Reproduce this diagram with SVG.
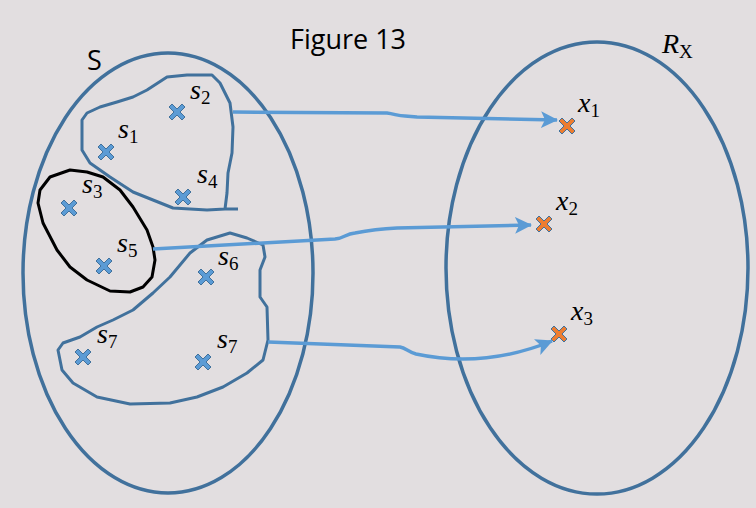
<svg xmlns="http://www.w3.org/2000/svg" xmlns:xlink="http://www.w3.org/1999/xlink" width="756" height="508" viewBox="0 0 756 508">
<style>
.ell{fill:none;stroke:#41719C;stroke-width:3.5}
.blob{fill:none;stroke:#41719C;stroke-width:3;stroke-linejoin:round}
.blk{fill:none;stroke:#000;stroke-width:3;stroke-linejoin:round}
.con{fill:none;stroke:#5B9BD5;stroke-width:3.5;marker-end:url(#ah)}
.m{font-family:"Liberation Serif",serif;font-style:italic;font-size:28px;fill:#000}
.sub{font-style:normal;font-size:19px}
.t{font-family:"Open Sans","Liberation Sans",sans-serif;font-size:27px;fill:#000}
.bx{fill:#5B9BD5;stroke:#41719C;stroke-width:1}
.ox{fill:#ED7D31;stroke:#41719C;stroke-width:1}
</style>
<defs>
<marker id="ah" markerUnits="userSpaceOnUse" markerWidth="18" markerHeight="18" refX="16" refY="8.5" orient="auto">
<path d="M0,0 L17,8.5 L0,17 L4,8.5 z" fill="#5B9BD5"/>
</marker>
<path id="cx" d="M-8,-5 L-5,-8 L0,-3 L5,-8 L8,-5 L3,0 L8,5 L5,8 L0,3 L-5,8 L-8,5 L-3,0 Z"/>
</defs>
<rect width="756" height="508" fill="#E2DEE0"/>
<text class="t" x="290" y="49">Figure 13</text>
<g id="S">
<ellipse class="ell" cx="168" cy="273" rx="145" ry="220"/>
<text class="t" x="87" y="70">S</text>
</g>
<g id="RX">
<ellipse class="ell" cx="597" cy="268" rx="151" ry="226"/>
<text class="m" x="662" y="53">R<tspan class="sub" dy="5">X</tspan></text>
</g>
<g id="set1">
<path class="blob" d="M238,209 L225,209 L207,210 L173,208 L153,200 L133,192 L110,177 L90,163 L82,150 L82,120 L87,113 L100,107 L117,102 L133,97 L147,90 L167,77 L187,75 L212,75 L220,83 L230,103 L233,127 L232,153 L228,173 L227,193 L225,209"/>
</g>
<g id="set2">
<path class="blk" d="M70,170 L87,172 L103,177 L120,190 L133,207 L147,230 L153,247 L155,260 L152,277 L143,287 L130,292 L110,291 L87,280 L70,267 L57,250 L43,223 L38,203 L40,190 L50,177 Z"/>
</g>
<g id="set3">
<path class="blob" d="M230,233 L247,238 L263,245 L265,257 L260,270 L260,297 L267,307 L268,340 L263,360 L247,373 L223,387 L197,397 L170,403 L130,404 L97,397 L73,383 L62,370 L58,350 L63,343 L80,337 L97,327 L113,320 L133,310 L153,293 L170,277 L190,253 L207,240 Z"/>
</g>
<g id="points">
<use href="#cx" class="bx" x="177" y="112"/>
<use href="#cx" class="bx" x="106" y="152"/>
<use href="#cx" class="bx" x="183" y="197"/>
<use href="#cx" class="bx" x="69" y="208"/>
<use href="#cx" class="bx" x="104" y="266"/>
<use href="#cx" class="bx" x="206" y="277"/>
<use href="#cx" class="bx" x="83" y="357"/>
<use href="#cx" class="bx" x="203" y="362"/>
<use href="#cx" class="ox" x="567" y="126"/>
<use href="#cx" class="ox" x="544" y="224"/>
<use href="#cx" class="ox" x="559" y="334"/>
</g>
<g id="labels">
<text class="m" x="190" y="99">s<tspan class="sub" dy="5">2</tspan></text>
<text class="m" x="118" y="138">s<tspan class="sub" dy="5">1</tspan></text>
<text class="m" x="197" y="183">s<tspan class="sub" dy="5">4</tspan></text>
<text class="m" x="82" y="193">s<tspan class="sub" dy="5">3</tspan></text>
<text class="m" x="117" y="252">s<tspan class="sub" dy="5">5</tspan></text>
<text class="m" x="218" y="265">s<tspan class="sub" dy="5">6</tspan></text>
<text class="m" x="97" y="343">s<tspan class="sub" dy="5">7</tspan></text>
<text class="m" x="217" y="348">s<tspan class="sub" dy="5">7</tspan></text>
<text class="m" x="578" y="112">x<tspan class="sub" dy="5">1</tspan></text>
<text class="m" x="556" y="210">x<tspan class="sub" dy="5">2</tspan></text>
<text class="m" x="571" y="320">x<tspan class="sub" dy="5">3</tspan></text>
</g>
<g id="connectors">
<path class="con" d="M233,112 L387,113 C395,114 398,116 405,116 L417,117 L557,120"/>
<path class="con" d="M153,249 L335,239 C345,238 345,234 355,233 C375,229 397,228 397,228 L531,225"/>
<path class="con" d="M268,342 L400,347 C406,348 408,352 416,354 C430,357 445,359 463,359 C490,359 520,354 552,341"/>
</g>
</svg>
